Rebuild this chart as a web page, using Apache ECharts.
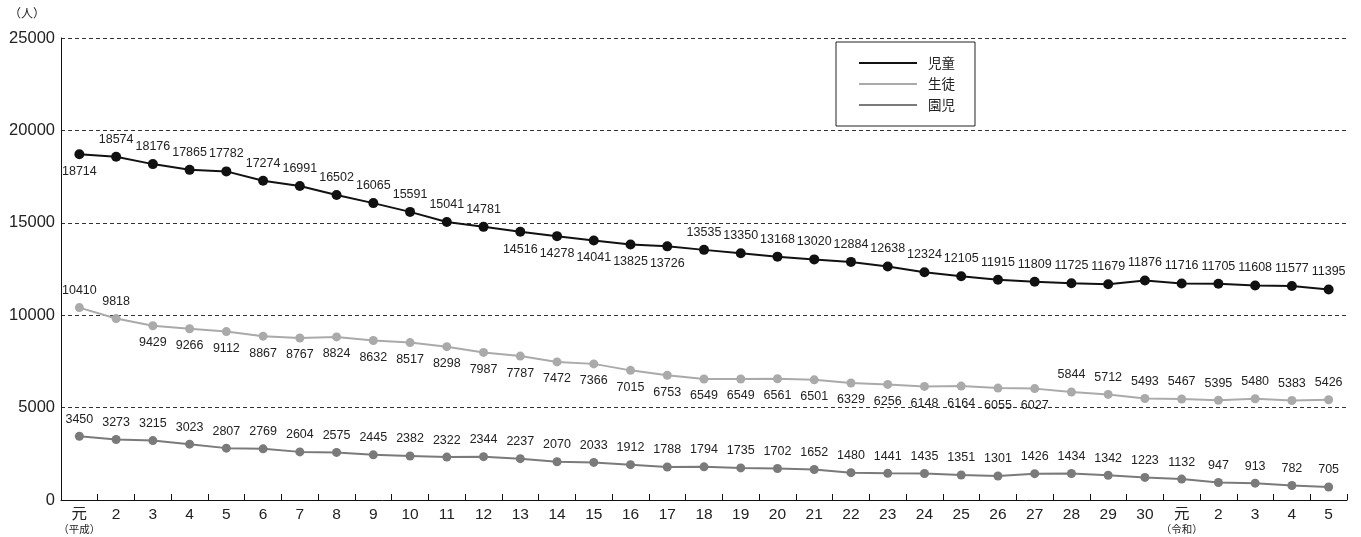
<!DOCTYPE html>
<html>
<head>
<meta charset="utf-8">
<script src="https://cdn.jsdelivr.net/npm/echarts@6/dist/echarts.min.js"></script>
<style>
html,body{margin:0;padding:0;background:#fff;}
#c{width:1361px;height:537px;}
</style>
</head>
<body>
<div id="c"></div>
<script>
// ---- data ----
const categories = ['元\n（平成）','2','3','4','5','6','7','8','9','10','11','12','13','14','15','16','17','18','19','20','21','22','23','24','25','26','27','28','29','30','元\n（令和）','2','3','4','5'];
const seriesNames = ['児童','生徒','園児'];
const jido = [18714,18574,18176,17865,17782,17274,16991,16502,16065,15591,15041,14781,14516,14278,14041,13825,13726,13535,13350,13168,13020,12884,12638,12324,12105,11915,11809,11725,11679,11876,11716,11705,11608,11577,11395];
const seito = [10410,9818,9429,9266,9112,8867,8767,8824,8632,8517,8298,7987,7787,7472,7366,7015,6753,6549,6549,6561,6501,6329,6256,6148,6164,6055,6027,5844,5712,5493,5467,5395,5480,5383,5426];
const enji = [3450,3273,3215,3023,2807,2769,2604,2575,2445,2382,2322,2344,2237,2070,2033,1912,1788,1794,1735,1702,1652,1480,1441,1435,1351,1301,1426,1434,1342,1223,1132,947,913,782,705];
const yTicks = [0,5000,10000,15000,20000,25000];

// ---- label style config (which points carry labels below) ----
const jidoBelow = [0,12,13,14,15,16];
const seitoBelow = [2,3,4,5,6,7,8,9,10,11,12,13,14,15,16,17,18,19,20,21,22,23,24,25,26];

function mk(values, below){
  return values.map((v,i)=>({
    value: v,
    label: { position: below.indexOf(i) >= 0 ? 'bottom' : 'top' }
  }));
}

const chart = echarts.init(document.getElementById('c'));
const labelStyle = { show: true, color: '#222', fontSize: 12.5, fontFamily: 'Liberation Sans, Arial, sans-serif', distance: 6 };
chart.setOption({
  animation: false,
  textStyle: { fontFamily: 'Liberation Sans, Arial, sans-serif' },
  title: { text: '（人）', left: 4, top: 2, textStyle: { fontSize: 12, fontWeight: 'normal', color: '#222', fontFamily: 'Noto Sans CJK JP' } },
  grid: { left: 61, right: 14, top: 38, bottom: 37, containLabel: false },
  legend: {
    orient: 'vertical', left: 836, top: 42,
    data: seriesNames,
    icon: 'rect', itemWidth: 58, itemHeight: 2, itemGap: 7,
    padding: [14, 20, 14, 23],
    borderColor: '#222', borderWidth: 1,
    textStyle: { fontSize: 13.5, color: '#222', fontFamily: 'Noto Sans CJK JP', padding: [0, 0, 0, 6], lineHeight: 14 }
  },
  xAxis: {
    type: 'category', data: categories, boundaryGap: true,
    axisLine: { lineStyle: { color: '#111', width: 1 } },
    axisTick: { show: true, inside: true, length: 6, lineStyle: { color: '#111' } },
    axisLabel: {
      interval: 0, margin: 6,
      formatter: function(v){
        const p = v.split('\n');
        return p.length > 1 ? '{a|' + p[0] + '}\n{b|' + p[1] + '}' : '{a|' + v + '}';
      },
      rich: {
        a: { fontSize: 15.5, color: '#222', fontFamily: 'Liberation Sans, Noto Sans CJK JP', lineHeight: 17 },
        b: { fontSize: 10.5, color: '#222', fontFamily: 'Noto Sans CJK JP', lineHeight: 12 }
      }
    }
  },
  yAxis: {
    type: 'value', min: yTicks[0], max: yTicks[yTicks.length-1], interval: 5000,
    axisLine: { show: true, lineStyle: { color: '#111', width: 1 } },
    axisTick: { show: false },
    axisLabel: { fontSize: 16.5, color: '#222', margin: 6, formatter: function(v){ return String(v); } },
    splitLine: { show: true, lineStyle: { color: '#333', type: [4, 3], width: 1 } }
  },
  series: [
    { name: seriesNames[0], type: 'line', data: mk(jido, jidoBelow), symbol: 'circle', symbolSize: 10,
      lineStyle: { color: '#111', width: 2 }, itemStyle: { color: '#111' }, label: labelStyle, z: 3 },
    { name: seriesNames[1], type: 'line', data: mk(seito, seitoBelow), symbol: 'circle', symbolSize: 9,
      lineStyle: { color: '#aaaaaa', width: 2 }, itemStyle: { color: '#aaaaaa' }, label: labelStyle, z: 2 },
    { name: seriesNames[2], type: 'line', data: mk(enji, []), symbol: 'circle', symbolSize: 9,
      lineStyle: { color: '#7a7a7a', width: 2 }, itemStyle: { color: '#7a7a7a' }, label: labelStyle, z: 2 }
  ]
});
</script>
</body>
</html>
